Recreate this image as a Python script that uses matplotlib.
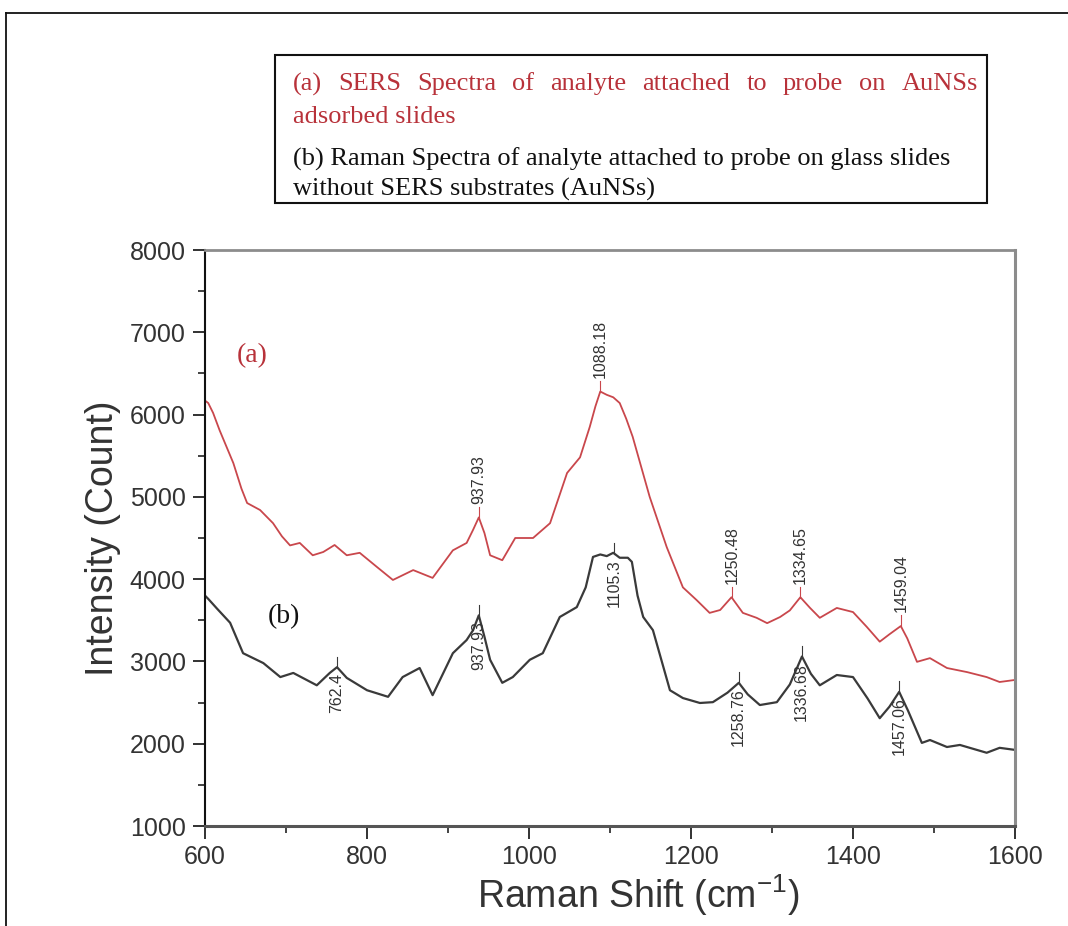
import matplotlib
matplotlib.use("Agg")
import matplotlib.pyplot as plt
import numpy as np
from matplotlib.lines import Line2D
from matplotlib.patches import Rectangle
from matplotlib.transforms import IdentityTransform

# ---------------- data ----------------
x_a = [600, 604, 610, 618, 635, 645, 652, 668, 684, 695, 705, 717, 733, 746, 760, 775, 791, 812,
       832, 857, 881, 906, 923, 931, 938, 945, 952, 967, 983, 1005, 1026, 1047, 1063, 1075, 1082,
       1088, 1096, 1104, 1112, 1120, 1128, 1149, 1170, 1190, 1207, 1223, 1236, 1250, 1264, 1281,
       1294, 1310, 1322, 1335, 1347, 1359, 1380, 1400, 1417, 1433, 1445, 1459, 1467, 1479, 1495,
       1516, 1541, 1565, 1581, 1600]
y_a = [6170, 6140, 6020, 5810, 5410, 5100, 4925, 4840, 4680, 4520, 4410, 4440, 4290, 4330, 4415,
       4290, 4320, 4150, 3990, 4110, 4015, 4350, 4440, 4600, 4750, 4560, 4290, 4230, 4500, 4500,
       4680, 5290, 5480, 5850, 6100, 6280, 6240, 6210, 6140, 5950, 5730, 5000, 4390, 3900, 3745,
       3590, 3625, 3780, 3590, 3530, 3465, 3540, 3620, 3780, 3650, 3530, 3650, 3600, 3420, 3240,
       3330, 3430, 3280, 2995, 3040, 2920, 2870, 2810, 2750, 2775]

x_b = [600, 604, 615, 631, 647, 672, 693, 709, 738, 754, 763, 775, 800, 826, 844, 865, 881, 906,
       923, 931, 938, 945, 952, 967, 980, 1001, 1017, 1038, 1059, 1070, 1079, 1088, 1096, 1104,
       1112, 1122, 1127, 1134, 1141, 1153, 1174, 1190, 1211, 1227, 1245, 1259, 1270, 1285, 1306,
       1322, 1337, 1348, 1359, 1380, 1400, 1418, 1433, 1445, 1457, 1468, 1485, 1495, 1516, 1532,
       1565, 1581, 1600]
y_b = [3800, 3760, 3640, 3470, 3100, 2980, 2810, 2860, 2710, 2860, 2930, 2800, 2650, 2570, 2810,
       2920, 2590, 3100, 3260, 3380, 3560, 3300, 3020, 2740, 2810, 3020, 3100, 3540, 3660, 3900,
       4270, 4300, 4280, 4320, 4260, 4260, 4210, 3800, 3540, 3380, 2650, 2555, 2495, 2505, 2620,
       2740, 2600, 2470, 2505, 2720, 3060, 2850, 2710, 2835, 2810, 2550, 2310, 2450, 2630, 2400,
       2010, 2045, 1960, 1985, 1890, 1950, 1925]

peaks_a = [937.93, 1088.18, 1250.48, 1334.65, 1459.04]
peaks_b = [762.4, 937.93, 1105.3, 1258.76, 1336.68, 1457.06]
labels_a = ["937.93", "1088.18", "1250.48", "1334.65", "1459.04"]
labels_b = ["762.4", "937.93", "1105.3", "1258.76", "1336.68", "1457.06"]

x_ticks = [600, 800, 1000, 1200, 1400, 1600]
y_ticks = [1000, 2000, 3000, 4000, 5000, 6000, 7000, 8000]

legend_a = "(a) SERS Spectra of analyte attached to probe on AuNSs"
legend_a2 = "adsorbed slides"
legend_b = "(b) Raman Spectra of analyte attached to probe on glass slides"
legend_b2 = "without SERS substrates (AuNSs)"

# ---------------- style ----------------
RED_LINE = "#c9474c"
RED_TEXT = "#b8323a"
BLACK_LINE = "#3a3a3a"
W, H = 1068, 926

plt.rcParams['font.family'] = ['Liberation Sans', 'DejaVu Sans']
fig = plt.figure(figsize=(W / 100, H / 100), dpi=100)
fig.patch.set_facecolor("white")

L, R, T, B = 205, 1015, 250, 826
ax = fig.add_axes([L / W, 1 - B / H, (R - L) / W, (B - T) / H])

ax.plot(x_a, y_a, color=RED_LINE, lw=1.3)
ax.plot(x_b, y_b, color=BLACK_LINE, lw=1.6)

ax.set_xlim(600, 1600)
ax.set_ylim(1000, 8000)
ax.set_xticks(x_ticks)
ax.set_yticks(y_ticks)
ax.set_xticks(np.arange(700, 1600, 200), minor=True)
ax.set_yticks(np.arange(1500, 8000, 1000), minor=True)
ax.tick_params(which='major', direction='out', length=9, width=1.3, labelsize=18, pad=5,
               colors='#222222')
ax.tick_params(which='minor', direction='out', length=5, width=1.2, colors='#222222')
for lab in ax.get_xticklabels() + ax.get_yticklabels():
    lab.set_color('#333333')

ax.spines['left'].set_color('#111111')
ax.spines['left'].set_linewidth(1.5)
ax.spines['bottom'].set_color('#555555')
ax.spines['bottom'].set_linewidth(2.2)
ax.spines['top'].set_color('#8c8c8c')
ax.spines['top'].set_linewidth(2.0)
ax.spines['right'].set_color('#8c8c8c')
ax.spines['right'].set_linewidth(2.2)

ax.set_xlabel("Raman Shift (cm$^{\\mathregular{-1}}$)", fontsize=27, color='#333333')
ax.xaxis.set_label_coords(0.535, -0.08)
ax.set_ylabel("Intensity (Count)", fontsize=27, color='#333333', labelpad=6)

# peak labels
for px, lab in zip(peaks_a, labels_a):
    py_ = np.interp(px, x_a, y_a)
    ax.plot([px, px], [py_, py_ + 130], color=RED_LINE, lw=0.8)
    ax.annotate(lab, (px, py_), xytext=(0, 10), textcoords='offset points', rotation=90,
                ha='center', va='bottom', fontsize=11.5, color='#333333')
for px, lab in zip(peaks_b, labels_b):
    py_ = np.interp(px, x_b, y_b)
    ax.plot([px, px], [py_, py_ + 130], color=BLACK_LINE, lw=0.8)
    ax.annotate(lab, (px, py_), xytext=(0, -4), textcoords='offset points', rotation=90,
                ha='center', va='top', fontsize=11.5, color='#333333')

ax.text(658, 6720, "(a)", family='Liberation Serif', fontsize=20, color=RED_TEXT,
        ha='center', va='center')
ax.text(698, 3540, "(b)", family='Liberation Serif', fontsize=20, color='#111111',
        ha='center', va='center')

# ---------------- legend box (figure pixels) ----------------
def py(y):
    return H - y

box = Rectangle((275, py(203)), 987 - 275, 203 - 55, transform=IdentityTransform(),
                fill=False, edgecolor='#111111', lw=1.5)
fig.add_artist(box)

fs = 19
renderer = fig.canvas.get_renderer()
x0, x1 = 293, 978
words = legend_a.split(" ")
objs = []
for w_ in words:
    t = fig.text(0, py(84), w_, transform=IdentityTransform(), family='Liberation Serif',
                 fontsize=fs, color=RED_TEXT, va='center', ha='left')
    objs.append(t)
widths = [o.get_window_extent(renderer).width for o in objs]
gap = (x1 - x0 - sum(widths)) / (len(words) - 1)
cx = x0
for o, wd in zip(objs, widths):
    o.set_x(cx)
    cx += wd + gap

fig.text(x0, py(117), legend_a2, transform=IdentityTransform(), family='Liberation Serif',
         fontsize=fs, color=RED_TEXT, va='center', ha='left')
fig.text(x0, py(159), legend_b, transform=IdentityTransform(), family='Liberation Serif',
         fontsize=fs, color='#111111', va='center', ha='left')
fig.text(x0, py(189), legend_b2, transform=IdentityTransform(), family='Liberation Serif',
         fontsize=fs, color='#111111', va='center', ha='left')

# outer frame lines (top and left)
fig.add_artist(Line2D([6, W], [py(13), py(13)], transform=IdentityTransform(),
                      color='#111111', lw=1.3))
fig.add_artist(Line2D([6, 6], [py(13), 0], transform=IdentityTransform(),
                      color='#111111', lw=1.3))

fig.savefig("out.png", dpi=100, facecolor='white')
